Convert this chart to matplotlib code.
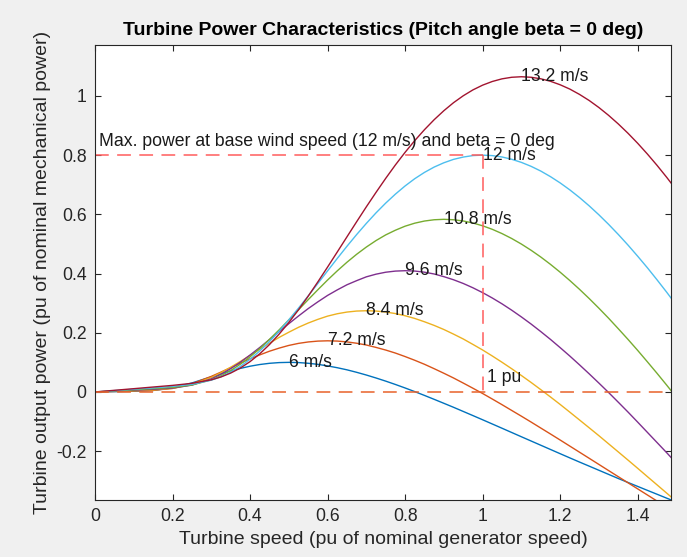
import matplotlib
matplotlib.use("Agg")
import matplotlib.pyplot as plt
from matplotlib.ticker import FormatStrFormatter

# turbine speed (pu of nominal generator speed)
omega = [0.00, 0.05, 0.10, 0.15, 0.20, 0.25, 0.30,
         0.325, 0.35, 0.375, 0.40, 0.425, 0.45, 0.475, 0.50,
         0.525, 0.55, 0.575, 0.60, 0.625, 0.65, 0.675, 0.70,
         0.725, 0.75, 0.775, 0.80, 0.825, 0.85, 0.875, 0.90,
         0.925, 0.95, 0.975, 1.00, 1.025, 1.05, 1.075, 1.10,
         1.125, 1.15, 1.175, 1.20, 1.225, 1.25, 1.275, 1.30,
         1.325, 1.35, 1.375, 1.40, 1.425, 1.45, 1.475, 1.50]

# output power (pu of nominal mechanical power), one list per wind speed
p_6 = [0, .0011, .0024, .0050, .0138, .0304, .0511,
       .0614, .0710, .0796, .0870, .0927, .0968, .0992, .1000,
       .0993, .0969, .0933, .0880, .0819, .0748, .0664, .0572,
       .0472, .0366, .0253, .0135, .0011, -.0117, -.0249, -.0383,
       -.0518, -.0658, -.0798, -.0939, -.1082, -.1225, -.1369, -.1513,
       -.1656, -.1799, -.1942, -.2085, -.2227, -.2368, -.2506, -.2645,
       -.2784, -.2923, -.3057, -.3190, -.3323, -.3455, -.3588, -.3717]
p_72 = [0, .0017, .0033, .0055, .0121, .0278, .0526,
        .0671, .0823, .0973, .1119, .1252, .1376, .1481, .1572,
        .1641, .1689, .1718, .1728, .1719, .1691, .1646, .1586,
        .1505, .1416, .1314, .1196, .1070, .0935, .0786, .0632,
        .0472, .0301, .0126, -.0052, -.0239, -.0429, -.0624, -.0818,
        -.1016, -.1218, -.1419, -.1623, -.1829, -.2035, -.2241, -.2448,
        -.2655, -.2862, -.3067, -.3273, -.3479, -.3685, -.3890, -.4091]
p_84 = [0, .0022, .0045, .0069, .0119, .0247, .0489,
        .0651, .0835, .1031, .1237, .1444, .1645, .1843, .2018,
        .2184, .2328, .2453, .2562, .2642, .2699, .2733, .2744,
        .2733, .2701, .2648, .2575, .2483, .2371, .2248, .2110,
        .1954, .1790, .1606, .1418, .1215, .1004, .0785, .0556,
        .0322, .0079, -.0168, -.0421, -.0682, -.0946, -.1211, -.1477,
        -.1751, -.2025, -.2300, -.2578, -.2859, -.3138, -.3418, -.3700]
p_96 = [0, .0029, .0059, .0088, .0131, .0231, .0443,
        .0599, .0787, .1004, .1247, .1502, .1769, .2039, .2307,
        .2566, .2816, .3045, .3261, .3448, .3621, .3760, .3889,
        .3979, .4045, .4083, .4096, .4084, .4046, .3985, .3895,
        .3790, .3665, .3519, .3355, .3174, .2977, .2763, .2535,
        .2295, .2040, .1776, .1498, .1213, .0916, .0612, .0300,
        -.0018, -.0346, -.0677, -.1018, -.1363, -.1708, -.2053, -.2409]
p_108 = [0, .0037, .0074, .0112, .0155, .0235, .0409,
         .0547, .0724, .0938, .1187, .1467, .1775, .2097, .2434,
         .2776, .3118, .3454, .3781, .4091, .4382, .4651, .4895,
         .5114, .5306, .5464, .5600, .5702, .5774, .5817, .5832,
         .5817, .5776, .5707, .5613, .5494, .5350, .5184, .4996,
         .4787, .4559, .4311, .4046, .3764, .3467, .3155, .2829,
         .2491, .2137, .1777, .1405, .1020, .0630, .0229, -.0180]
p_12 = [0, .0046, .0092, .0138, .0189, .0257, .0398,
        .0514, .0669, .0865, .1104, .1384, .1702, .2053, .2435,
        .2832, .3245, .3667, .4090, .4510, .4921, .5317, .5694,
        .6050, .6380, .6683, .6959, .7205, .7417, .7597, .7742,
        .7857, .7935, .7985, .8000, .7984, .7938, .7860, .7755,
        .7622, .7462, .7274, .7062, .6826, .6567, .6286, .5984,
        .5662, .5321, .4963, .4586, .4197, .3788, .3368, .2932]
p_132 = [0, .0056, .0111, .0167, .0222, .0292, .0410,
         .0507, .0638, .0809, .1025, .1289, .1600, .1953, .2347,
         .2777, .3236, .3720, .4219, .4728, .5240, .5750, .6254,
         .6742, .7216, .7669, .8095, .8492, .8860, .9197, .9501,
         .9772, 1.0005, 1.0204, 1.0364, 1.0488, 1.0577, 1.0630, 1.0648,
         1.0630, 1.0579, 1.0495, 1.0377, 1.0231, 1.0051, .9845, .9608,
         .9344, .9054, .8740, .8401, .8039, .7655, .7249, .6823]

wind_speeds = [6, 7.2, 8.4, 9.6, 10.8, 12, 13.2]
power_curves = [p_6, p_72, p_84, p_96, p_108, p_12, p_132]

base_speed = 1.0   # pu
base_power = 0.8   # pu, max power at 12 m/s

xticks = [0, 0.2, 0.4, 0.6, 0.8, 1, 1.2, 1.4]
yticks = [-0.2, 0, 0.2, 0.4, 0.6, 0.8, 1]

# matlab default line colours
colors = ['#0072BD', '#D95319', '#EDB120', '#7E2F8E', '#77AC30', '#4DBEEE', '#A2142F']

plt.rcParams.update({
    'font.family': ['Liberation Sans', 'DejaVu Sans'],
    'axes.unicode_minus': False,
    'axes.edgecolor': '#262626',
    'axes.linewidth': 0.8,
    'xtick.color': '#262626',
    'ytick.color': '#262626',
})

fig = plt.figure(figsize=(6.87, 5.57), dpi=100, facecolor='#f0f0f0')
ax = fig.add_axes([0.1383, 0.1023, 0.8384, 0.8169])
ax.set_facecolor('white')

for ws, pc, col in zip(wind_speeds, power_curves, colors):
    ax.plot(omega, pc, color=col, linewidth=1.0)
    k = pc.index(max(pc))
    ax.text(omega[k], pc[k], f'{ws:g} m/s', fontsize=12.7, color='#1a1a1a',
            ha='left', va='center')

# zero power line and base operating point
ax.plot([0, 1.5], [0, 0], color='#E8622A', linewidth=1.1, dashes=(9, 5.5))
ax.plot([0, base_speed], [base_power, base_power], color='#FF5C5C',
        linewidth=1.1, dashes=(9, 5.5))
ax.plot([base_speed, base_speed], [base_power, 0], color='#FF5C5C',
        linewidth=1.1, dashes=(9, 5.5))

ax.text(0.01, 0.845, 'Max. power at base wind speed (12 m/s) and beta = 0 deg',
        fontsize=12.7, color='#1a1a1a', ha='left', va='center')
ax.text(1.012, 0.05, '1 pu', fontsize=12.7, color='#1a1a1a', ha='left', va='center')

ax.set_xlim(0, 1.486)
ax.set_ylim(-0.365, 1.172)
ax.set_xticks(xticks)
ax.set_yticks(yticks)
ax.xaxis.set_major_formatter(FormatStrFormatter('%g'))
ax.yaxis.set_major_formatter(FormatStrFormatter('%g'))
ax.tick_params(direction='in', length=4, width=0.8, labelsize=12.7,
               top=True, right=True, pad=6)

ax.set_xlabel('Turbine speed (pu of nominal generator speed)', fontsize=14, color='#262626')
ax.set_ylabel('Turbine output power (pu of nominal mechanical power)', fontsize=14,
              color='#262626')
ax.set_title('Turbine Power Characteristics (Pitch angle beta = 0 deg)',
             fontsize=14, fontweight='bold', color='black', pad=7)

fig.savefig('out.png', dpi=100, facecolor=fig.get_facecolor())
